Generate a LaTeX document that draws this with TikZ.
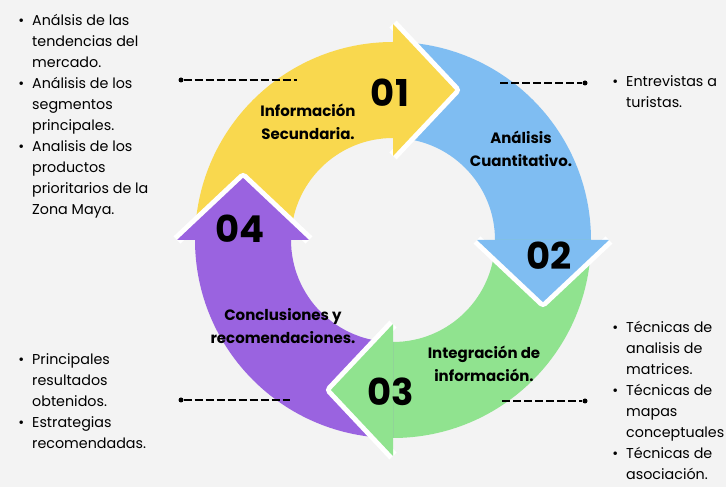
\documentclass[tikz,border=0pt]{standalone}
\usepackage{fontspec}
\setmainfont{Poppins}
\usetikzlibrary{calc}
\definecolor{bgGray}{HTML}{F3F3F3}
\definecolor{arrYellow}{HTML}{F9D84E}
\definecolor{arrBlue}{HTML}{7FBDF2}
\definecolor{arrGreen}{HTML}{90E38F}
\definecolor{arrPurple}{HTML}{9A63E0}
\newcommand{\bul}{\llap{\textbullet\hspace{8pt}}}
\tikzset{stepnum/.style = {font = \fontsize{37}{37}\selectfont\bfseries, inner sep = 0}}
\tikzset{steplabel/.style = {font = \fontsize{15}{23}\selectfont\bfseries, align = center, inner sep = 0}}
\tikzset{sidelist/.style = {font = \fontsize{14.3}{21}\selectfont, align = left, anchor = north west, inner sep = 0}}
\tikzset{leader/.style = {dash pattern = on 8pt off 3pt, line width = 1.2pt}}
\tikzset{dotend/.style = {circle, fill = black, inner sep = 0, minimum size = 5pt}}

\begin{document}
\begin{tikzpicture}[x = 1pt, y = 1pt]
\fill [bgGray] (0,0) rectangle (726,487);
\useasboundingbox (0,0) rectangle (726,487);
\begin{scope}[shift = {(393,247)}]
\foreach \c/\a in {arrYellow/180, arrBlue/90, arrGreen/0, arrPurple/-90}
\fill [\c] (\a:198) arc [start angle = \a, end angle = \a-90, radius = 198]
  -- ({\a-90}:102) arc [start angle = \a-90, end angle = \a, radius = 102] -- cycle;
\foreach \c/\a in {arrYellow/90, arrBlue/0, arrGreen/-90, arrPurple/-180} {
\draw [white, line width = 10pt, line join = round] (\a:84) -- ({\a-22.5}:162.3) -- (\a:216);
\fill [\c] (\a:84) -- ({\a-22.5}:162.3) -- (\a:216) -- cycle;
}
\end{scope}
\node [stepnum] (numA) at (390,394) {01};
\node [stepnum] (numB) at (549,231) {02};
\node [stepnum] (numC) at (391,95) {03};
\node [stepnum] (numD) at (240,258) {04};
\node [steplabel] (stepA) at (308,365) {Información\\Secundaria.};
\node [steplabel] (stepB) at (521,338) {Análisis\\Cuantitativo.};
\node [steplabel] (stepC) at (484,123) {Integración de\\información.};
\node [steplabel] (stepD) at (283,161) {Conclusiones y\\recomendaciones.};
% leaders
\node [dotend] (dotA) at (181,407) {};
\coordinate (endA) at (297,407);
\draw [leader] (dotA) -- (endA);
\node [dotend] (dotB) at (585,404) {};
\coordinate (endB) at (500,404);
\draw [leader] (endB) -- (dotB);
\node [dotend] (dotC) at (585,86) {};
\coordinate (endC) at (502,86);
\draw [leader] (endC) -- (dotC);
\node [dotend] (dotD) at (181,87) {};
\coordinate (endD) at (290,87);
\draw [leader] (dotD) -- (endD);
% lists
\node [sidelist] (listA) at (32,473) {\bul Análsis de las\\tendencias del\\mercado.\\\bul Análisis de los\\segmentos\\principales.\\\bul Analisis de los\\productos\\prioritarios de la\\Zona Maya.};
\node [sidelist] (listB) at (626,412) {\bul Entrevistas a\\turistas.};
\node [sidelist] (listC) at (626,166) {\bul Técnicas de\\analisis de\\matrices.\\\bul Técnicas de\\mapas\\conceptuales\\\bul Técnicas de\\asociación.};
\node [sidelist] (listD) at (32,134) {\bul Principales\\resultados\\obtenidos.\\\bul Estrategias\\recomendadas.};
\end{tikzpicture}
\end{document}
